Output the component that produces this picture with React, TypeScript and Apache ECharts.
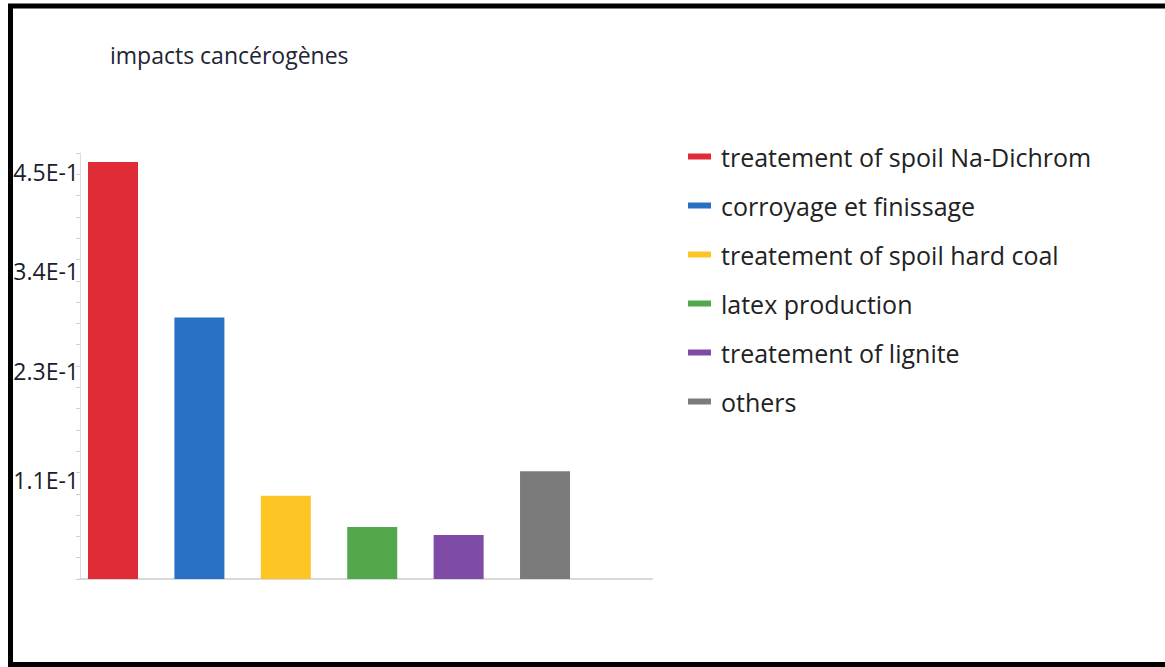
import React, { useEffect, useRef } from "react";
import * as echarts from "echarts";

const titleText = "impacts cancérogènes";
const categories = [
  "treatement of spoil Na-Dichrom",
  "corroyage et finissage",
  "treatement of spoil hard coal",
  "latex production",
  "treatement of lignite",
  "others",
];
const values = [0.461, 0.289, 0.092, 0.0575, 0.0487, 0.119];
const colors = ["#e02c36", "#2970c2", "#fdc524", "#53a74d", "#7e4ba6", "#7b7b7b"];
const yTickLabels = [0.45, 0.34, 0.23, 0.11];

const FONT = "'Open Sans', sans-serif";

export default function App() {
  const ref = useRef<HTMLDivElement>(null);
  useEffect(() => {
    if (!ref.current) return;
    const chart = echarts.init(ref.current, undefined, { renderer: "svg" });
    chart.setOption({
      animation: false,
      backgroundColor: "#ffffff",
      title: {
        text: titleText,
        left: 110,
        top: 43,
        padding: 0,
        textStyle: { fontFamily: FONT, fontSize: 23, fontWeight: "normal", color: "#1e2536" },
      },
      legend: {
        orient: "vertical",
        left: 688,
        top: 144,
        padding: 0,
        itemWidth: 23,
        itemHeight: 6,
        itemGap: 24,
        icon: "rect",
        selectedMode: false,
        data: categories,
        textStyle: {
          fontFamily: FONT,
          fontSize: 25,
          lineHeight: 24,
          color: "#222222",
          padding: [0, 0, 0, 5],
        },
      },
      grid: { left: 80, right: 513, top: 153, bottom: 88, containLabel: false },
      xAxis: {
        type: "value",
        min: -0.382,
        max: 6.238,
        axisLine: { show: true, onZero: false, lineStyle: { color: "#d9d9d9", width: 2 } },
        axisTick: { show: false },
        axisLabel: { show: false },
        splitLine: { show: false },
      },
      yAxis: {
        type: "value",
        min: 0,
        max: 0.471,
        interval: 0.02355,
        axisLine: { show: true, onZero: false, lineStyle: { color: "#dedede", width: 1 } },
        axisTick: { show: true, length: 4, lineStyle: { color: "#d0d0d0" } },
        splitLine: { show: false },
        axisLabel: {
          customValues: yTickLabels,
          margin: 1,
          fontFamily: FONT,
          fontSize: 23,
          color: "#1a1d2b",
          formatter: (v: number) => v.toExponential(1).replace("e", "E"),
        },
      },
      graphic: [
        {
          type: "rect",
          shape: { x: 10.5, y: 6, width: 1170, height: 658.5 },
          style: { fill: "none", stroke: "#000000", lineWidth: 5 },
          silent: true,
        },
      ],
      series: categories.map((name, i) => ({
        type: "bar",
        name,
        data: [[i, values[i]]],
        barWidth: 50,
        barGap: "-100%",
        itemStyle: { color: colors[i] },
      })),
    });
    return () => chart.dispose();
  }, []);
  return (
    <div
      ref={ref}
      style={{ position: "absolute", left: 0, top: 0, width: 1165, height: 667 }}
    />
  );
}
